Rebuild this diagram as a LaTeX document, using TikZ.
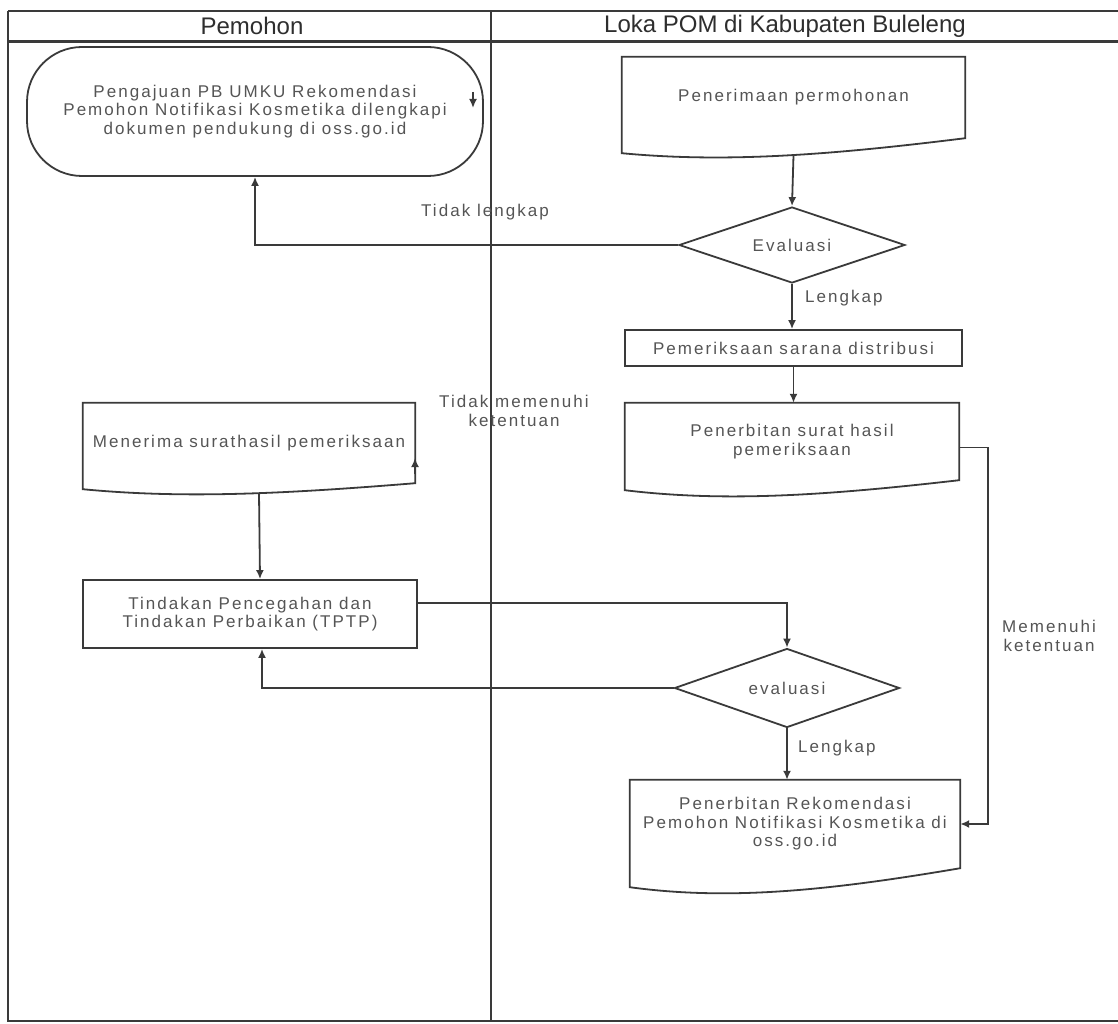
\documentclass[tikz,border=0pt]{standalone}
\usepackage{fontspec}
\setmainfont{Liberation Sans}
\newfontfamily\bodyf[LetterSpace=12]{Liberation Sans}
\usetikzlibrary{arrows.meta,shapes.geometric,calc}
\definecolor{ln}{HTML}{3A3A3A}
\definecolor{tx}{HTML}{555555}
\definecolor{hd}{HTML}{2E2E2E}
\newcommand{\docoutline}[3]{%
  \draw[shp] (#1.north west) -- (#1.north east) -- (#1.south east)
    .. controls ($(#1.south west)!0.6!(#1.south east)+(0pt,{-0.9*#3pt})$)
    and ($(#1.south west)!0.3!(#1.south east)+(0pt,{-1.3*#3pt})$)
    .. ($(#1.south west)+(0pt,{-#2pt})$) -- cycle;}
\begin{document}
\begin{tikzpicture}[x=1pt,y=-1pt,
  shp/.style={draw=ln,line width=1.8pt},
  frame/.style={draw=ln,line width=1.8pt},
  arr/.style={draw=ln,line width=1.8pt,-{Latex[length=9pt,width=8pt]}},
  lbl/.style={text=tx,font=\bodyf\fontsize{17}{18.5}\selectfont,align=center,inner sep=0pt},
  hdr/.style={text=hd,font=\fontsize{24}{26}\selectfont,inner sep=0pt}]
\useasboundingbox (0,0) rectangle (1118,1024);
\fill[white] (0,0) rectangle (1118,1024);
% swimlane frame
\draw[frame] (8,11) -- (1118,11);
\draw[draw=ln,line width=3pt] (8,42) -- (1118,42);
\draw[frame] (8,11) -- (8,1021) -- (1118,1021);
\draw[frame] (491,11) -- (491,1021);
\node[hdr] (h1) at (252,26) {Pemohon};
\node[hdr] (h2) at (785,26) {Loka POM di Kabupaten Buleleng};
% nodes
\node[lbl,shp,rounded corners=55pt,minimum width=456pt,minimum height=129pt] (term) at (255,111.5)
  {Pengajuan PB UMKU Rekomendasi\\Pemohon Notifikasi Kosmetika dilengkapi\\dokumen pendukung di oss.go.id};
\node[lbl,minimum width=343pt,minimum height=81pt] (pen) at (793.5,97.5) {Penerimaan permohonan};
\docoutline{pen}{15}{19}
\node[lbl,diamond,shp,aspect=2.97,minimum width=226pt,minimum height=76pt] (ev1) at (792,245) {Evaluasi};
\node[lbl,shp,minimum width=337pt,minimum height=36pt] (pem) at (793.5,348) {Pemeriksaan sarana distribusi};
\node[lbl,minimum width=334pt,minimum height=77pt] (pst) at (792,441.5) {Penerbitan surat hasil\\pemeriksaan};
\docoutline{pst}{10}{17}
\node[lbl,minimum width=332pt,minimum height=80pt] (men) at (249,443) {Menerima surathasil pemeriksaan};
\docoutline{men}{6}{12}
\node[lbl,shp,minimum width=334pt,minimum height=68pt] (tind) at (250,614)
  {Tindakan Pencegahan dan\\Tindakan Perbaikan (TPTP)};
\node[lbl,diamond,shp,aspect=2.85,minimum width=225pt,minimum height=79pt] (ev2) at (787,688) {evaluasi};
\node[lbl,minimum width=330pt,minimum height=88pt] (rek) at (795,824)
  {Penerbitan Rekomendasi\\Pemohon Notifikasi Kosmetika di\\oss.go.id};
\docoutline{rek}{19}{25}
% labels
\node[lbl] (l1) at (485,212) {Tidak lengkap};
\node[lbl,anchor=west] (l2) at (805,298) {Lengkap};
\node[lbl] (l3) at (514,411) {Tidak memenuhi\\ketentuan};
\node[lbl] (l4) at (1049,636) {Memenuhi\\ketentuan};
\node[lbl,anchor=west] (l5) at (798,748) {Lengkap};
% connectors
\draw[arr] ([yshift=-17pt]pen.south) -- (ev1.north);
\draw[arr] (ev1.west) -| (term.south);
\draw[arr] (ev1.south) -- (ev1.south |- pem.north);
\draw[arr] (pem.south) -- (pem.south |- pst.north);
\draw[arr] ([yshift=-6pt]pst.east) -- ++(29,0) |- (rek.east);
\draw[arr] ([xshift=10pt,yshift=-10pt]men.south) -- ([xshift=10pt]tind.north);
\draw[arr] ([yshift=11pt]tind.east) -| (ev2.north);
\draw[arr] (ev2.west) -| ([xshift=12pt]tind.south);
\draw[arr] (ev2.south) -- (ev2.south |- rek.north);
\coordinate (ta) at (473,92);
\draw[arr] (ta) -- ++(0,16);
\coordinate (tb) at (415,474);
\draw[arr] (tb) -- ++(0,-16);
\end{tikzpicture}
\end{document}
